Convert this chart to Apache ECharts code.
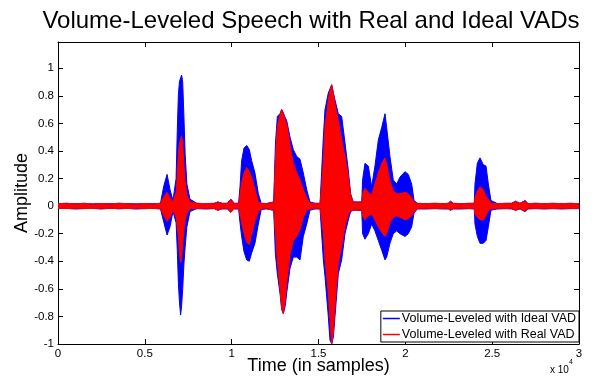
<!DOCTYPE html>
<html><head><meta charset="utf-8">
<script src="https://cdn.jsdelivr.net/npm/echarts@6/dist/echarts.min.js"></script>
<style>html,body{margin:0;padding:0;background:#fff}#c{width:595px;height:380px}</style>
</head><body><div id="c"></div>
<script>
// Sample positions (breakpoints of the waveform envelope)
const samples = [0,500,1000,1500,2000,2500,3000,3500,4000,4500,5000,5500,5900,
6100,6280,6450,6620,6800,6870,6930,6990,7060,7120,7180,7250,7320,7420,7600,
8000,8500,9000,9200,9300,9450,9750,9950,10150,10400,
10480,10575,10710,10865,11015,11150,11340,11535,11700,12000,12420,
12520,12630,12780,12880,12975,13090,13168,13360,13550,13745,13935,14125,14320,14510,14800,15090,
15180,15280,15375,15565,15660,15760,15855,15950,16140,16335,16525,16715,16850,17000,17250,17490,
17540,17675,17870,18060,18250,18445,18640,18830,18925,19115,19305,19500,19690,19980,20170,20365,20500,
20700,21200,21700,22200,22475,22600,22760,23200,23700,23970,
24010,24145,24300,24490,24645,24780,24930,25300,25800,26120,26350,26600,26900,27050,27500,28000,28500,29000,29500,30000];

// Volume-Leveled with Ideal VAD (blue) envelope
const idealUpper = [.018,.02,.017,.02,.016,.019,.017,.02,.018,.016,.019,.017,.02,
.15,.23,.12,.04,.2,.55,.8,.9,.93,.95,.9,.65,.38,.16,.05,
.02,.018,.02,.03,.035,.02,.02,.05,.02,.02,
.14,.33,.42,.44,.41,.33,.24,.09,.02,.018,.03,
.45,.65,.67,.70,.69,.64,.62,.50,.41,.36,.34,.24,.12,.03,.02,.02,
.25,.50,.70,.82,.85,.88,.82,.77,.67,.65,.46,.26,.09,.03,.03,.03,
.19,.31,.29,.14,.29,.48,.57,.67,.57,.36,.19,.16,.21,.25,.23,.16,.04,
.02,.018,.02,.018,.02,.035,.02,.018,.02,.02,
.16,.31,.35,.30,.29,.16,.04,.018,.02,.02,.035,.02,.04,.018,.02,.018,.02,.018,.02,.018];
const idealLower = [-.018,-.017,-.02,-.018,-.017,-.02,-.016,-.019,-.017,-.02,-.018,-.017,-.02,
-.12,-.21,-.15,-.04,-.12,-.32,-.55,-.69,-.79,-.72,-.6,-.42,-.3,-.15,-.04,
-.018,-.02,-.018,-.03,-.03,-.02,-.02,-.045,-.02,-.02,
-.12,-.22,-.33,-.39,-.40,-.34,-.27,-.13,-.025,-.02,-.03,
-.35,-.49,-.63,-.75,-.78,-.72,-.63,-.45,-.37,-.37,-.39,-.22,-.13,-.03,-.02,-.02,
-.2,-.39,-.51,-.80,-.97,-1.0,-.95,-.80,-.49,-.39,-.2,-.1,-.04,-.03,-.03,-.03,
-.20,-.24,-.20,-.13,-.18,-.25,-.32,-.39,-.37,-.27,-.20,-.18,-.20,-.22,-.20,-.15,-.05,
-.02,-.02,-.018,-.02,-.02,-.03,-.02,-.02,-.018,-.02,
-.13,-.22,-.27,-.27,-.25,-.15,-.03,-.02,-.018,-.02,-.03,-.02,-.04,-.02,-.018,-.02,-.018,-.02,-.018,-.018];

// Volume-Leveled with Real VAD (red) envelope
const realUpper = [.018,.02,.017,.02,.016,.019,.017,.02,.018,.016,.019,.017,.02,
.07,.10,.06,.03,.1,.22,.38,.45,.49,.51,.45,.3,.18,.08,.03,
.02,.018,.02,.03,.035,.02,.02,.05,.02,.02,
.08,.17,.24,.28,.25,.21,.12,.03,.02,.018,.03,
.35,.58,.66,.70,.68,.62,.60,.44,.31,.24,.19,.12,.06,.02,.02,.02,
.15,.33,.58,.77,.84,.88,.82,.74,.62,.48,.36,.22,.08,.03,.03,.03,
.09,.13,.10,.08,.16,.24,.31,.35,.30,.18,.11,.09,.09,.10,.09,.06,.03,
.02,.018,.02,.018,.02,.035,.02,.018,.02,.02,
.06,.11,.14,.12,.07,.05,.02,.018,.02,.02,.035,.02,.04,.018,.02,.018,.02,.018,.02,.018];
const realLower = [-.018,-.017,-.02,-.018,-.017,-.02,-.016,-.019,-.017,-.02,-.018,-.017,-.02,
-.07,-.11,-.08,-.03,-.08,-.15,-.22,-.33,-.41,-.38,-.27,-.17,-.1,-.05,-.02,
-.018,-.02,-.018,-.03,-.03,-.02,-.02,-.045,-.02,-.02,
-.06,-.12,-.2,-.26,-.28,-.2,-.11,-.04,-.02,-.02,-.03,
-.2,-.4,-.6,-.74,-.78,-.68,-.56,-.35,-.25,-.22,-.17,-.08,-.03,-.02,-.02,-.02,
-.1,-.20,-.39,-.63,-.82,-1.0,-.92,-.73,-.41,-.29,-.15,-.06,-.03,-.03,-.03,-.03,
-.07,-.10,-.07,-.06,-.10,-.15,-.19,-.22,-.20,-.12,-.08,-.07,-.08,-.10,-.09,-.07,-.04,
-.02,-.02,-.018,-.02,-.02,-.03,-.02,-.02,-.018,-.02,
-.06,-.08,-.10,-.10,-.07,-.03,-.02,-.02,-.018,-.02,-.03,-.02,-.04,-.02,-.018,-.02,-.018,-.02,-.018,-.018];

const seriesNames = ['Volume-Leveled with Ideal VAD', 'Volume-Leveled with Real VAD'];
const xTickValues = [0, 5000, 10000, 15000, 20000, 25000, 30000];

const FONT = 'Liberation Sans, Arial, Helvetica, sans-serif';
const BLUE = '#0000ff', RED = '#ff0000';

function band(name, color, values) {
  return {
    name: name, type: 'line', symbol: 'none', silent: true,
    data: samples.map((t, i) => [t, values[i]]),
    lineStyle: { color: color, width: 1 },
    itemStyle: { color: color },
    areaStyle: { color: color, opacity: 1, origin: 0 },
    animation: false, z: 2
  };
}

const chart = echarts.init(document.getElementById('c'), null, { renderer: 'canvas' });
const axisCommon = {
  axisLine: { show: true, onZero: false, lineStyle: { color: '#000', width: 1 } },
  axisTick: { show: true, inside: true, length: 5, lineStyle: { color: '#000' } },
  splitLine: { show: false }
};
chart.setOption({
  backgroundColor: '#fff',
  animation: false,
  grid: { left: 58, right: 16, top: 42, bottom: 36, containLabel: false, outerBoundsMode: 'none' },
  xAxis: [
    Object.assign({
      type: 'value', min: 0, max: 30000, interval: 5000, position: 'bottom',
      name: 'Time (in samples)', nameLocation: 'middle', nameGap: 13, nameMoveOverlap: false,
      nameTextStyle: { fontFamily: FONT, fontSize: 18, color: '#000', verticalAlign: 'top' },
      axisLabel: { fontFamily: FONT, fontSize: 11.5, color: '#000', margin: 4,
        formatter: v => (xTickValues.indexOf(v) >= 0 ? String(v / 10000) : '') }
    }, axisCommon),
    Object.assign({
      type: 'value', min: 0, max: 30000, interval: 5000, position: 'top',
      axisLabel: { show: false }
    }, axisCommon)
  ],
  yAxis: [
    Object.assign({
      type: 'value', min: -1, max: 1.19, interval: 0.2, position: 'left',
      name: 'Amplitude', nameLocation: 'middle', nameGap: 27, nameRotate: 90, nameMoveOverlap: false,
      nameTextStyle: { fontFamily: FONT, fontSize: 18, color: '#000' },
      axisLabel: { fontFamily: FONT, fontSize: 11.5, color: '#000', margin: 4,
        showMaxLabel: false,
        formatter: v => (v > 1.001 ? '' : String(Math.round(v * 10) / 10)) }
    }, axisCommon),
    Object.assign({
      type: 'value', min: -1, max: 1.19, interval: 0.2, position: 'right',
      axisLabel: { show: false }
    }, axisCommon)
  ],
  legend: {
    orient: 'vertical', right: 16, bottom: 38,
    backgroundColor: '#fff', borderColor: '#000', borderWidth: 1,
    padding: [1, 3, 1, 2], itemGap: 3, itemWidth: 17, itemHeight: 1.5,
    textStyle: { fontFamily: FONT, fontSize: 12.5, color: '#000', padding: [0, 0, 0, -3] },
    data: [
      { name: seriesNames[0], icon: 'rect', itemStyle: { color: BLUE } },
      { name: seriesNames[1], icon: 'rect', itemStyle: { color: RED } }
    ]
  },
  graphic: [{
    type: 'text', z: 10,
    style: {
      x: 311, y: 21, align: 'center', verticalAlign: 'middle',
      text: 'Volume-Leveled Speech with Real and Ideal VADs',
      fontFamily: FONT, fontSize: 24, fill: '#000'
    }
  }, {
    type: 'text', left: 550, top: 359,
    style: {
      text: '{a|x 10}{b|4}', fill: '#000',
      rich: {
        a: { fontFamily: FONT, fontSize: 10, verticalAlign: 'bottom', padding: [6, 0, 0, 0] },
        b: { fontFamily: FONT, fontSize: 7, verticalAlign: 'top' }
      }
    }
  }],
  series: [
    band(seriesNames[0], BLUE, idealUpper),
    band(seriesNames[0], BLUE, idealLower),
    band(seriesNames[1], RED, realUpper),
    band(seriesNames[1], RED, realLower)
  ]
});
</script></body></html>
